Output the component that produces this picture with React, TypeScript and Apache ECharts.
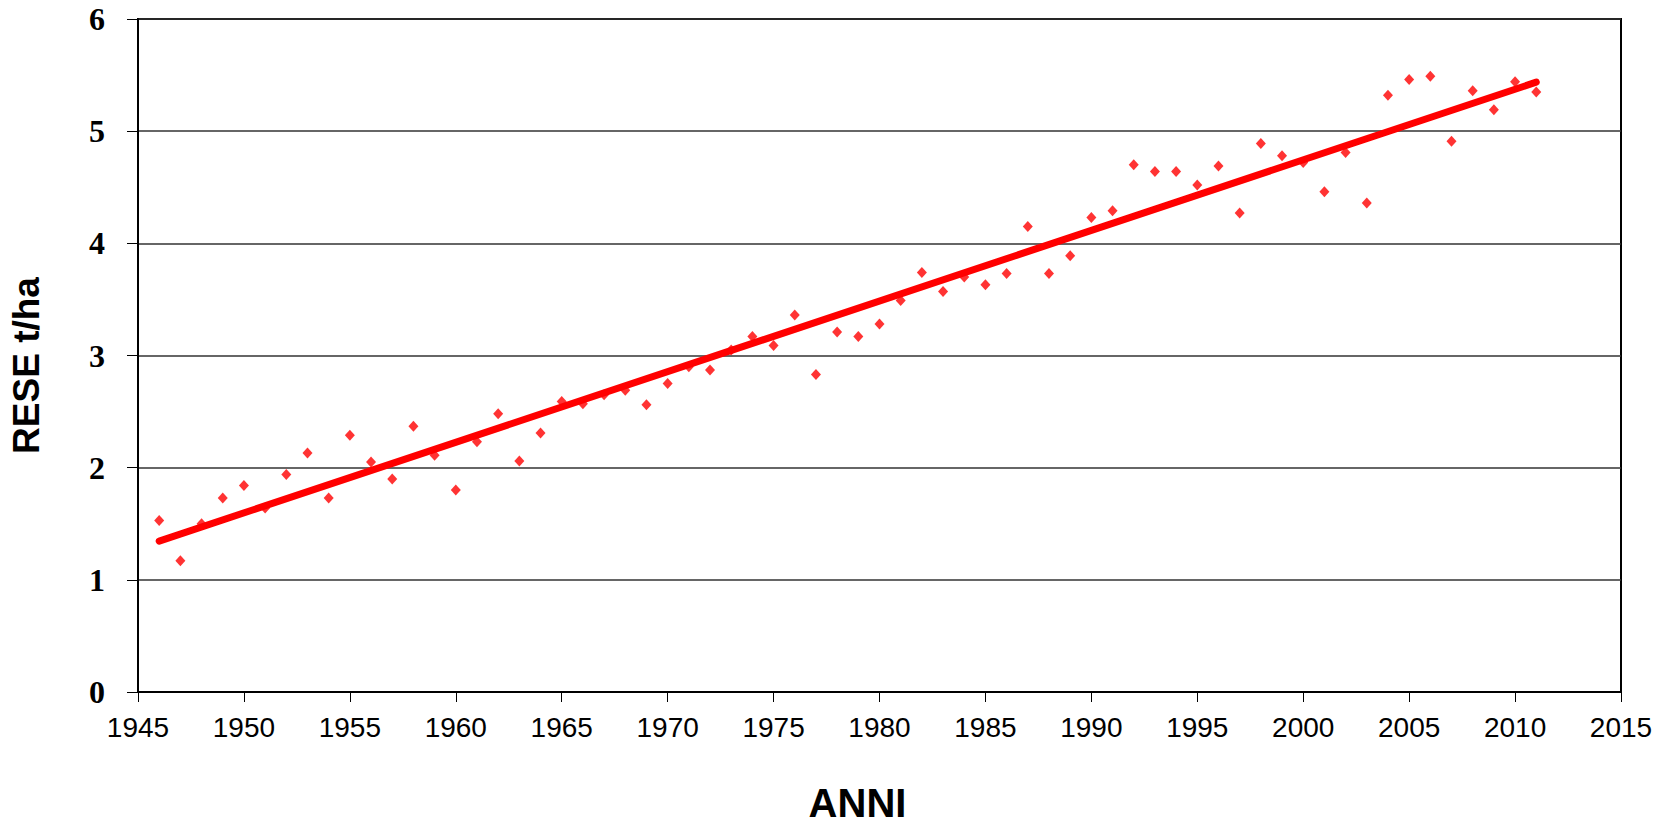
import React, { useEffect, useRef } from "react";
import * as echarts from "echarts";

const years: number[] = [
  1946, 1947, 1948, 1949, 1950, 1951, 1952, 1953, 1954, 1955,
  1956, 1957, 1958, 1959, 1960, 1961, 1962, 1963, 1964, 1965,
  1966, 1967, 1968, 1969, 1970, 1971, 1972, 1973, 1974, 1975,
  1976, 1977, 1978, 1979, 1980, 1981, 1982, 1983, 1984, 1985,
  1986, 1987, 1988, 1989, 1990, 1991, 1992, 1993, 1994, 1995,
  1996, 1997, 1998, 1999, 2000, 2001, 2002, 2003, 2004, 2005,
  2006, 2007, 2008, 2009, 2010, 2011,
];

const rese: number[] = [
  1.53, 1.17, 1.5, 1.73, 1.84, 1.64, 1.94, 2.13, 1.73, 2.29,
  2.05, 1.9, 2.37, 2.11, 1.8, 2.23, 2.48, 2.06, 2.31, 2.59,
  2.57, 2.65, 2.69, 2.56, 2.75, 2.9, 2.87, 3.05, 3.17, 3.09,
  3.36, 2.83, 3.21, 3.17, 3.28, 3.49, 3.74, 3.57, 3.7, 3.63,
  3.73, 4.15, 3.73, 3.89, 4.23, 4.29, 4.7, 4.64, 4.64, 4.52,
  4.69, 4.27, 4.89, 4.78, 4.72, 4.46, 4.81, 4.36, 5.32, 5.46,
  5.49, 4.91, 5.36, 5.19, 5.44, 5.35,
];

const trendYears: number[] = [1946, 2011];
const trendValues: number[] = [1.345, 5.437];

const xTicks = { min: 1945, max: 2015, interval: 5 };
const yTicks = { min: 0, max: 6, interval: 1 };

export default function App() {
  const ref = useRef<HTMLDivElement>(null);

  useEffect(() => {
    if (!ref.current) return;
    const chart = echarts.init(ref.current, undefined, { renderer: "svg" });
    chart.setOption({
      animation: false,
      backgroundColor: "#ffffff",
      grid: {
        left: 138,
        top: 19,
        right: 43,
        bottom: 125,
        show: true,
        borderColor: "#000000",
        borderWidth: 2,
        containLabel: false,
      },
      xAxis: {
        type: "value",
        min: xTicks.min,
        max: xTicks.max,
        interval: xTicks.interval,
        name: "ANNI",
        nameLocation: "middle",
        nameGap: 91,
        nameTextStyle: {
          fontFamily: "Liberation Sans",
          fontWeight: "bold",
          fontSize: 40,
          color: "#000000",
          padding: [0, 44, 0, 0],
        },
        axisLine: { show: true, lineStyle: { color: "#000000", width: 2 } },
        axisTick: { show: true, inside: false, length: 10, lineStyle: { color: "#000000", width: 1 } },
        axisLabel: {
          margin: 21,
          fontFamily: "Liberation Sans",
          fontSize: 28,
          color: "#000000",
          formatter: (v: number) => String(v),
        },
        splitLine: { show: false },
      },
      yAxis: {
        type: "value",
        min: yTicks.min,
        max: yTicks.max,
        interval: yTicks.interval,
        name: "RESE t/ha",
        nameLocation: "middle",
        nameGap: 93,
        nameRotate: 90,
        nameTextStyle: {
          fontFamily: "Liberation Sans",
          fontWeight: "bold",
          fontSize: 37,
          color: "#000000",
          padding: [0, 20, 0, 0],
        },
        axisLine: { show: true, lineStyle: { color: "#000000", width: 2 } },
        axisTick: { show: true, inside: false, length: 11, lineStyle: { color: "#000000", width: 1 } },
        axisLabel: {
          margin: 33,
          fontFamily: "Liberation Serif",
          fontWeight: "bold",
          fontSize: 32,
          color: "#000000",
        },
        splitLine: { show: true, lineStyle: { color: "#333333", width: 1.5 } },
      },
      series: [
        {
          type: "scatter",
          data: years.map((y, i) => [y, rese[i]]),
          symbol: "diamond",
          symbolSize: [10, 11],
          itemStyle: { color: "#ff0000" },
          z: 2,
        },
        {
          type: "line",
          data: trendYears.map((y, i) => [y, trendValues[i]]),
          symbol: "none",
          lineStyle: { color: "#ff0000", width: 7, cap: "round" },
          z: 3,
        },
      ],
    });
    return () => chart.dispose();
  }, []);

  return (
    <div
      ref={ref}
      style={{ position: "absolute", left: 0, top: 0, width: 1664, height: 828 }}
    />
  );
}
